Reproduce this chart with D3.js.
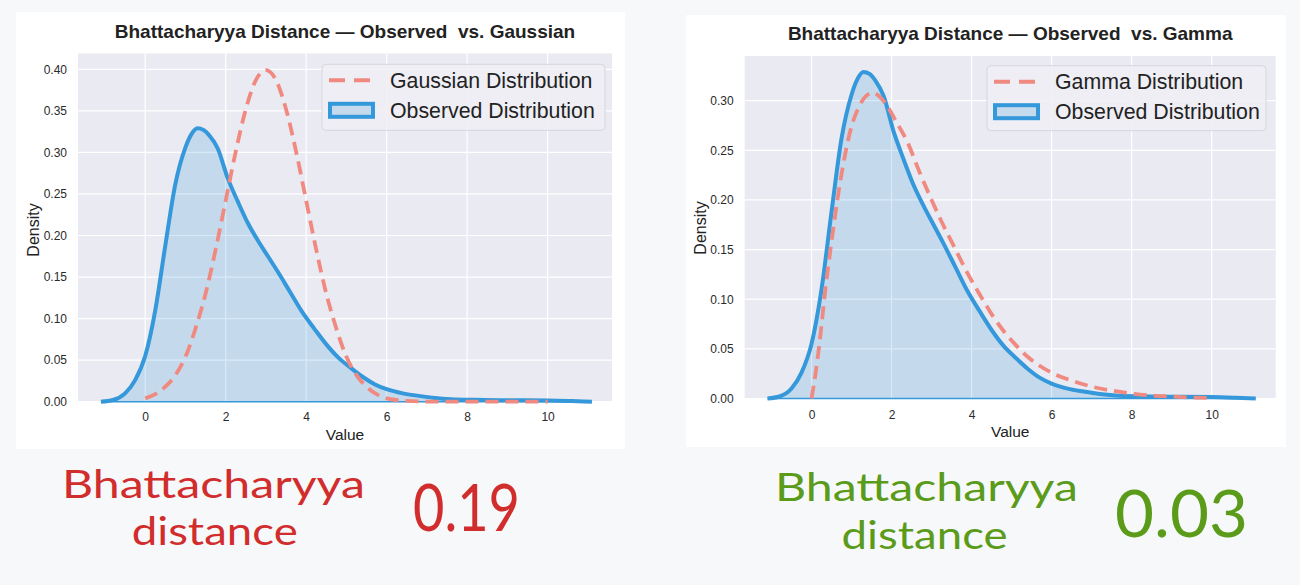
<!DOCTYPE html>
<html>
<head>
<meta charset="utf-8">
<script src="https://cdn.jsdelivr.net/npm/d3@7"></script>
<style>
  body { margin: 0; background: #f7f8fa; }
  svg { display: block; }
</style>
</head>
<body>
<div id="graph"></div>
<script>
'use strict';

// observed distribution (KDE)
const observedX = [-1.1, -0.8, -0.5, -0.25, 0, 0.25, 0.5, 0.75, 1.0, 1.15, 1.3, 1.45, 1.6, 1.8, 2.05, 2.3, 2.55, 2.8, 3.05, 3.3, 3.6, 3.9, 4.2, 4.5, 4.8, 5.1, 5.4, 5.7, 6.0, 6.4, 6.8, 7.2, 7.6, 8.2, 9.0, 10.0, 10.6, 11.1];
const observedY = [0, 0.002, 0.010, 0.026, 0.055, 0.110, 0.188, 0.262, 0.306, 0.322, 0.329, 0.327, 0.320, 0.305, 0.269, 0.241, 0.215, 0.194, 0.175, 0.156, 0.132, 0.108, 0.088, 0.069, 0.053, 0.041, 0.030, 0.021, 0.015, 0.010, 0.007, 0.0045, 0.003, 0.0022, 0.0018, 0.0015, 0.0008, 0];

// gaussian reference
const gaussianX = [0, 0.25, 0.5, 0.75, 1.0, 1.25, 1.5, 1.75, 2.0, 2.25, 2.5, 2.75, 3.0, 3.25, 3.5, 3.75, 4.0, 4.25, 4.5, 4.75, 5.0, 5.25, 5.5, 5.75, 6.0, 6.5, 7.0, 8.0, 9.0, 10.0];
const gaussianY = [0.004, 0.009, 0.018, 0.032, 0.054, 0.088, 0.130, 0.183, 0.242, 0.301, 0.352, 0.387, 0.399, 0.387, 0.352, 0.301, 0.242, 0.183, 0.130, 0.088, 0.054, 0.032, 0.018, 0.009, 0.004, 0.001, 0.0002, 0, 0, 0];

// gamma reference
const gammaX = [0, 0.1, 0.2, 0.35, 0.5, 0.7, 0.85, 1.0, 1.2, 1.4, 1.55, 1.7, 1.9, 2.1, 2.4, 2.7, 3.0, 3.3, 3.6, 3.9, 4.2, 4.5, 4.8, 5.1, 5.4, 5.7, 6.0, 6.5, 7.0, 7.5, 8.0, 8.5, 9.0, 9.5, 10.0];
const gammaY = [0, 0.025, 0.056, 0.111, 0.158, 0.214, 0.248, 0.274, 0.295, 0.306, 0.308, 0.304, 0.294, 0.280, 0.258, 0.228, 0.200, 0.174, 0.150, 0.126, 0.105, 0.085, 0.068, 0.054, 0.042, 0.033, 0.026, 0.018, 0.012, 0.008, 0.005, 0.003, 0.002, 0.001, 0.0005];

const xTicks = [0, 2, 4, 6, 8, 10];
const yTicksGaussian = [0, 0.05, 0.10, 0.15, 0.20, 0.25, 0.30, 0.35, 0.40];
const yTicksGamma = [0, 0.05, 0.10, 0.15, 0.20, 0.25, 0.30];

const titles = ["Bhattacharyya Distance \u2014 Observed\u00a0 vs. Gaussian", "Bhattacharyya Distance \u2014 Observed\u00a0 vs. Gamma"];
const legendNames = ["Gaussian Distribution", "Gamma Distribution", "Observed Distribution"];
const distanceWords = ["Bhattacharyya", "distance"];
const distanceValues = ["0.19", "0.03"];

(function() {

  const blue = "#3498db";
  const salmon = "#f08a80";
  const svgContainer = d3.select('#graph')
    .append('svg')
    .attr('width', 1300)
    .attr('height', 585);

  svgContainer.append('rect')
    .attr('width', 1300).attr('height', 585)
    .attr('fill', '#f7f8fa');

  // left panel: observed vs gaussian
  drawPanel({
    card: [16, 12, 609, 437],
    left: 78, right: 612, top: 53.5, bottom: 401.7,
    yMax: 0.419, yTicks: yTicksGaussian,
    title: titles[0], titleY: 37.5,
    xLabelY: 421.5, valueY: 440, densityX: 39, densityY: 230,
    refX: gaussianX, refY: gaussianY, refName: legendNames[0],
    legend: { x: 322, y: 64.3, w: 283, h: 66 }
  });

  // right panel: observed vs gamma
  drawPanel({
    card: [686, 15, 600, 432],
    left: 744.7, right: 1275.7, top: 56, bottom: 398.5,
    yMax: 0.345, yTicks: yTicksGamma,
    title: titles[1], titleY: 39.5,
    xLabelY: 419, valueY: 437, densityX: 706, densityY: 228,
    refX: gammaX, refY: gammaY, refName: legendNames[1],
    legend: { x: 987, y: 65.7, w: 279, h: 65 }
  });

  // handwritten notes
  drawNote("#d12d2d", [62, 498, 303], [131.7, 545, 166], [413, 530.5, 107], distanceValues[0]);
  drawNote("#5b9b1a", [775, 501, 303], [841.6, 549, 166], [1115, 536.7, 133], distanceValues[1]);

  function drawPanel(p) {
    svgContainer.append('rect')
      .attr('x', p.card[0]).attr('y', p.card[1])
      .attr('width', p.card[2]).attr('height', p.card[3])
      .attr('fill', '#ffffff');

    let xScale = d3.scaleLinear().domain([-1.67, 11.6]).range([p.left, p.right]);
    let yScale = d3.scaleLinear().domain([0, p.yMax]).range([p.bottom, p.top]);

    svgContainer.append('rect')
      .attr('x', p.left).attr('y', p.top)
      .attr('width', p.right - p.left).attr('height', p.bottom - p.top)
      .attr('fill', '#eaeaf2');

    // grid
    let grid = svgContainer.append('g');
    grid.selectAll('.vgrid')
      .data(xTicks).enter().append('line')
      .attr('x1', d => xScale(d)).attr('x2', d => xScale(d))
      .attr('y1', p.top).attr('y2', p.bottom)
      .attr('stroke', '#ffffff').attr('stroke-width', 1.2);
    grid.selectAll('.hgrid')
      .data(p.yTicks).enter().append('line')
      .attr('x1', p.left).attr('x2', p.right)
      .attr('y1', d => yScale(d)).attr('y2', d => yScale(d))
      .attr('stroke', '#ffffff').attr('stroke-width', 1.2);

    // axes (labels only, seaborn style)
    let xAxis = d3.axisBottom(xScale).tickValues(xTicks).tickSize(0).tickPadding(0);
    let gx = svgContainer.append('g')
      .attr('transform', 'translate(0,' + (p.xLabelY - 9) + ')')
      .call(xAxis);
    let yAxis = d3.axisLeft(yScale).tickValues(p.yTicks).tickSize(0).tickPadding(11)
      .tickFormat(d3.format('.2f'));
    let gy = svgContainer.append('g')
      .attr('transform', 'translate(' + p.left + ',0)')
      .call(yAxis);
    [gx, gy].forEach(g => {
      g.select('.domain').remove();
      g.selectAll('text')
        .attr('fill', '#2a2a2a')
        .style('font-family', 'Liberation Sans, Arial, sans-serif')
        .style('font-size', '12px');
    });

    // observed distribution: filled area + thick outline
    let pts = observedX.map((x, i) => [x, observedY[i]]);
    let area = d3.area()
      .x(d => xScale(d[0])).y0(yScale(0)).y1(d => yScale(d[1]))
      .curve(d3.curveMonotoneX);
    svgContainer.append('path')
      .attr('d', area(pts))
      .attr('fill', blue).attr('fill-opacity', 0.2)
      .attr('stroke', blue).attr('stroke-width', 1.5);
    let line = d3.line()
      .x(d => xScale(d[0])).y(d => yScale(d[1]))
      .curve(d3.curveMonotoneX);
    svgContainer.append('path')
      .attr('d', line(pts))
      .attr('fill', 'none')
      .attr('stroke', blue).attr('stroke-width', 4)
      .attr('stroke-linejoin', 'round');

    // reference distribution, dashed
    let refPts = p.refX.map((x, i) => [x, p.refY[i]]);
    svgContainer.append('path')
      .attr('d', line(refPts))
      .attr('fill', 'none')
      .attr('stroke', salmon).attr('stroke-width', 3.8)
      .attr('stroke-dasharray', '13,7');

    // title and axis labels
    svgContainer.append('text')
      .attr('x', (p.left + p.right) / 2).attr('y', p.titleY)
      .attr('text-anchor', 'middle')
      .style('font-family', 'Liberation Sans, Arial, sans-serif')
      .style('font-weight', 'bold').style('font-size', '19px')
      .attr('fill', '#222')
      .text(p.title);
    svgContainer.append('text')
      .attr('x', (p.left + p.right) / 2).attr('y', p.valueY)
      .attr('text-anchor', 'middle')
      .style('font-family', 'Liberation Sans, Arial, sans-serif')
      .style('font-size', '15.5px').attr('fill', '#222')
      .text('Value');
    svgContainer.append('text')
      .attr('transform', 'translate(' + p.densityX + ',' + p.densityY + ')rotate(-90)')
      .attr('text-anchor', 'middle')
      .style('font-family', 'Liberation Sans, Arial, sans-serif')
      .style('font-size', '16px').attr('fill', '#222')
      .text('Density');

    // legend
    let lg = p.legend;
    svgContainer.append('rect')
      .attr('x', lg.x).attr('y', lg.y).attr('width', lg.w).attr('height', lg.h)
      .attr('rx', 4)
      .attr('fill', '#eeeef4').attr('fill-opacity', 0.9)
      .attr('stroke', '#d6d6de').attr('stroke-width', 1);
    svgContainer.append('line')
      .attr('x1', lg.x + 7).attr('x2', lg.x + 48)
      .attr('y1', lg.y + 16).attr('y2', lg.y + 16)
      .attr('stroke', salmon).attr('stroke-width', 4)
      .attr('stroke-dasharray', '16,9');
    svgContainer.append('rect')
      .attr('x', lg.x + 8).attr('y', lg.y + 39.5)
      .attr('width', 43).attr('height', 13)
      .attr('fill', '#c6daed')
      .attr('stroke', blue).attr('stroke-width', 4);
    svgContainer.selectAll('.legendName' + lg.x)
      .data([p.refName, legendNames[2]])
      .enter().append('text')
      .attr('x', lg.x + 68)
      .attr('y', (d, i) => lg.y + 23.7 + 30 * i)
      .style('font-family', 'Liberation Sans, Arial, sans-serif')
      .style('font-size', '21.3px').attr('fill', '#222')
      .text(d => d);
  }

  function drawNote(color, word1, word2, num, value) {
    let g = svgContainer.append('g')
      .attr('fill', color)
      .style('font-family', 'Lato, "Open Sans", sans-serif');
    g.selectAll('.word')
      .data([word1, word2])
      .enter().append('text')
      .attr('x', d => d[0]).attr('y', d => d[1])
      .attr('textLength', d => d[2]).attr('lengthAdjust', 'spacingAndGlyphs')
      .style('font-size', '39px')
      .text((d, i) => distanceWords[i]);
    g.append('text')
      .attr('x', num[0]).attr('y', num[1])
      .attr('textLength', num[2]).attr('lengthAdjust', 'spacingAndGlyphs')
      .style('font-size', '66px')
      .text(value);
  }

})();
</script>
</body>
</html>
